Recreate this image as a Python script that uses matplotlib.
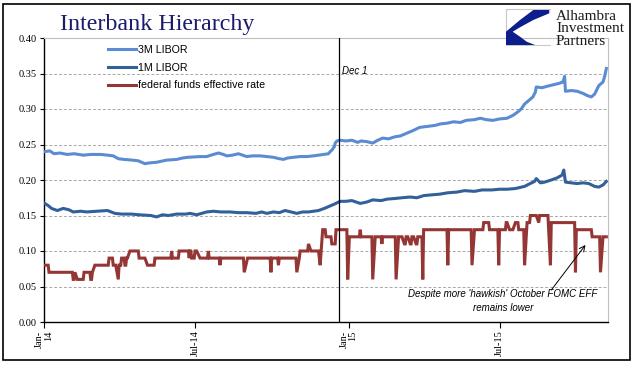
import matplotlib
matplotlib.use("Agg")
import matplotlib.pyplot as plt
import pandas as pd
import numpy as np
from matplotlib.patches import Rectangle, Polygon
from matplotlib.lines import Line2D
from matplotlib.font_manager import FontProperties

# ---------------- data ----------------
libor3m_dates = [
    "2014-01-02", "2014-01-08", "2014-01-13", "2014-01-20", "2014-01-29", "2014-02-06",
    "2014-02-17", "2014-02-26", "2014-03-10", "2014-03-18", "2014-03-25", "2014-03-31",
    "2014-04-07", "2014-04-17", "2014-04-24", "2014-05-02", "2014-05-07", "2014-05-16",
    "2014-05-28", "2014-06-09", "2014-06-16", "2014-06-23", "2014-07-07", "2014-07-15",
    "2014-07-23", "2014-07-29", "2014-08-04", "2014-08-08", "2014-08-15", "2014-08-22",
    "2014-09-01", "2014-09-08", "2014-09-17", "2014-09-25", "2014-10-03", "2014-10-10",
    "2014-10-15", "2014-10-20", "2014-10-27", "2014-11-04", "2014-11-12", "2014-11-20",
    "2014-11-26", "2014-12-02", "2014-12-08", "2014-12-10", "2014-12-12", "2014-12-15",
    "2014-12-16", "2014-12-18", "2014-12-22", "2014-12-29", "2015-01-05", "2015-01-12",
    "2015-01-16", "2015-01-23", "2015-01-30", "2015-02-05", "2015-02-11", "2015-02-18",
    "2015-02-26", "2015-03-04", "2015-03-10", "2015-03-16", "2015-03-20", "2015-03-27",
    "2015-04-02", "2015-04-09", "2015-04-15", "2015-04-21", "2015-04-29", "2015-05-07",
    "2015-05-15", "2015-05-22", "2015-06-01", "2015-06-08", "2015-06-15", "2015-06-23",
    "2015-07-01", "2015-07-10", "2015-07-17", "2015-07-23", "2015-07-27", "2015-07-31",
    "2015-08-04", "2015-08-10", "2015-08-13", "2015-08-14", "2015-08-21", "2015-08-27",
    "2015-09-03", "2015-09-10", "2015-09-15", "2015-09-17", "2015-09-18", "2015-09-25",
    "2015-10-02", "2015-10-09", "2015-10-14", "2015-10-19", "2015-10-23", "2015-10-28",
    "2015-11-02", "2015-11-04", "2015-11-06",
]
libor3m_values = [
    0.240, 0.241, 0.237, 0.238, 0.236, 0.237,
    0.235, 0.236, 0.236, 0.235, 0.234, 0.230,
    0.229, 0.228, 0.227, 0.223, 0.224, 0.225,
    0.228, 0.229, 0.231, 0.232, 0.233, 0.233,
    0.236, 0.238, 0.236, 0.234, 0.235, 0.237,
    0.233, 0.234, 0.234, 0.233, 0.232, 0.230,
    0.229, 0.231, 0.232, 0.233, 0.233, 0.234,
    0.235, 0.236, 0.237, 0.240, 0.242, 0.247,
    0.252, 0.255, 0.256, 0.255, 0.256, 0.253,
    0.255, 0.254, 0.252, 0.256, 0.259, 0.258,
    0.261, 0.262, 0.265, 0.268, 0.270, 0.274,
    0.275, 0.276, 0.277, 0.279, 0.280, 0.282,
    0.281, 0.284, 0.285, 0.287, 0.285, 0.284,
    0.286, 0.287, 0.291, 0.296, 0.300, 0.307,
    0.311, 0.317, 0.324, 0.331, 0.330, 0.332,
    0.334, 0.336, 0.338, 0.346, 0.325, 0.326,
    0.325, 0.322, 0.319, 0.317, 0.321, 0.333,
    0.338, 0.346, 0.357,
]

libor1m_dates = [
    "2014-01-02", "2014-01-06", "2014-01-10", "2014-01-17", "2014-01-24", "2014-01-31",
    "2014-02-05", "2014-02-14", "2014-02-21", "2014-03-05", "2014-03-18", "2014-03-27",
    "2014-04-04", "2014-04-16", "2014-04-25", "2014-05-09", "2014-05-16", "2014-05-23",
    "2014-05-30", "2014-06-09", "2014-06-20", "2014-06-25", "2014-07-03", "2014-07-15",
    "2014-07-23", "2014-08-01", "2014-08-12", "2014-08-22", "2014-09-01", "2014-09-12",
    "2014-09-19", "2014-09-25", "2014-10-03", "2014-10-10", "2014-10-17", "2014-10-24",
    "2014-10-31", "2014-11-07", "2014-11-14", "2014-11-20", "2014-11-26", "2014-12-03",
    "2014-12-09", "2014-12-15", "2014-12-22", "2014-12-29", "2015-01-05", "2015-01-15",
    "2015-01-23", "2015-01-30", "2015-02-09", "2015-02-16", "2015-02-26", "2015-03-06",
    "2015-03-16", "2015-03-24", "2015-04-01", "2015-04-10", "2015-04-20", "2015-04-30",
    "2015-05-11", "2015-05-20", "2015-06-01", "2015-06-10", "2015-06-22", "2015-07-01",
    "2015-07-10", "2015-07-20", "2015-07-31", "2015-08-05", "2015-08-12", "2015-08-14",
    "2015-08-19", "2015-08-24", "2015-09-01", "2015-09-08", "2015-09-14", "2015-09-16",
    "2015-09-18", "2015-09-25", "2015-10-02", "2015-10-09", "2015-10-16", "2015-10-23",
    "2015-10-28", "2015-11-02", "2015-11-06",
]
libor1m_values = [
    0.167, 0.164, 0.160, 0.157, 0.160, 0.158,
    0.155, 0.156, 0.155, 0.156, 0.157, 0.153,
    0.152, 0.152, 0.151, 0.150, 0.148, 0.151,
    0.150, 0.152, 0.152, 0.153, 0.151, 0.155,
    0.156, 0.155, 0.155, 0.154, 0.154, 0.153,
    0.155, 0.153, 0.155, 0.154, 0.157, 0.155,
    0.153, 0.155, 0.155, 0.156, 0.157, 0.160,
    0.163, 0.166, 0.170, 0.170, 0.171, 0.167,
    0.169, 0.172, 0.171, 0.173, 0.174, 0.175,
    0.176, 0.175, 0.178, 0.179, 0.180, 0.182,
    0.183, 0.185, 0.184, 0.186, 0.186, 0.187,
    0.187, 0.188, 0.191, 0.194, 0.198, 0.202,
    0.196, 0.197, 0.200, 0.203, 0.207, 0.214,
    0.197, 0.196, 0.195, 0.196, 0.195, 0.191,
    0.190, 0.193, 0.198,
]

# federal funds effective rate: daily observations at every turning point
eff_dates = [
    "2014-01-02", "2014-01-06", "2014-01-07", "2014-02-04", "2014-02-05", "2014-02-06",
    "2014-02-07", "2014-02-10", "2014-02-17", "2014-02-18", "2014-02-25", "2014-02-26",
    "2014-02-27", "2014-02-28", "2014-03-03", "2014-03-19", "2014-03-20", "2014-03-24",
    "2014-03-25", "2014-03-28", "2014-03-31", "2014-04-01", "2014-04-03", "2014-04-04",
    "2014-04-07", "2014-04-08", "2014-04-09", "2014-04-10", "2014-04-11", "2014-04-14",
    "2014-04-24", "2014-04-25", "2014-05-02", "2014-05-05", "2014-05-13", "2014-05-14",
    "2014-06-02", "2014-06-03", "2014-06-04", "2014-06-11", "2014-06-12", "2014-06-23",
    "2014-06-24", "2014-06-25", "2014-06-26", "2014-06-27", "2014-06-30", "2014-07-01",
    "2014-07-03", "2014-07-07", "2014-07-16", "2014-07-17", "2014-07-18", "2014-07-30",
    "2014-07-31", "2014-08-01", "2014-08-28", "2014-08-29", "2014-09-02", "2014-09-29",
    "2014-09-30", "2014-10-01", "2014-10-08", "2014-10-09", "2014-10-10", "2014-10-30",
    "2014-10-31", "2014-11-03", "2014-11-04", "2014-11-13", "2014-11-14", "2014-11-17",
    "2014-11-26", "2014-11-28", "2014-12-01", "2014-12-04", "2014-12-05", "2014-12-11",
    "2014-12-12", "2014-12-16", "2014-12-17", "2014-12-30", "2014-12-31", "2015-01-02",
    "2015-01-14", "2015-01-15", "2015-01-16", "2015-01-29", "2015-01-30", "2015-02-02",
    "2015-02-09", "2015-02-10", "2015-02-11", "2015-02-26", "2015-02-27", "2015-03-02",
    "2015-03-06", "2015-03-09", "2015-03-10", "2015-03-11", "2015-03-13", "2015-03-16",
    "2015-03-17", "2015-03-18", "2015-03-20", "2015-03-23", "2015-03-24", "2015-03-25",
    "2015-03-30", "2015-03-31", "2015-04-01", "2015-04-29", "2015-04-30", "2015-05-01",
    "2015-05-28", "2015-05-29", "2015-06-01", "2015-06-11", "2015-06-12", "2015-06-18",
    "2015-06-19", "2015-06-29", "2015-06-30", "2015-07-01", "2015-07-08", "2015-07-09",
    "2015-07-10", "2015-07-13", "2015-07-17", "2015-07-20", "2015-07-23", "2015-07-24",
    "2015-07-30", "2015-07-31", "2015-08-03", "2015-08-06", "2015-08-07", "2015-08-14",
    "2015-08-17", "2015-08-18", "2015-08-28", "2015-08-31", "2015-09-01", "2015-09-29",
    "2015-09-30", "2015-10-01", "2015-10-19", "2015-10-20", "2015-10-29", "2015-10-30",
    "2015-11-02", "2015-11-06",
]
eff_values = [
    0.08, 0.08, 0.07, 0.07, 0.06, 0.06,
    0.07, 0.06, 0.06, 0.07, 0.07, 0.06,
    0.06, 0.07, 0.08, 0.08, 0.09, 0.09,
    0.08, 0.08, 0.06, 0.08, 0.08, 0.09,
    0.09, 0.08, 0.08, 0.09, 0.09, 0.10,
    0.10, 0.09, 0.09, 0.08, 0.08, 0.09,
    0.09, 0.10, 0.09, 0.09, 0.10, 0.10,
    0.09, 0.10, 0.10, 0.09, 0.09, 0.10,
    0.10, 0.09, 0.09, 0.10, 0.09, 0.09,
    0.08, 0.09, 0.09, 0.07, 0.09, 0.09,
    0.07, 0.09, 0.09, 0.08, 0.09, 0.09,
    0.07, 0.09, 0.10, 0.10, 0.11, 0.10,
    0.10, 0.08, 0.13, 0.13, 0.12, 0.12,
    0.11, 0.11, 0.13, 0.13, 0.06, 0.12,
    0.12, 0.13, 0.12, 0.12, 0.06, 0.12,
    0.12, 0.11, 0.12, 0.12, 0.06, 0.12,
    0.12, 0.11, 0.11, 0.12, 0.12, 0.11,
    0.11, 0.12, 0.12, 0.11, 0.11, 0.12,
    0.12, 0.06, 0.13, 0.13, 0.08, 0.13,
    0.13, 0.08, 0.13, 0.13, 0.14, 0.14,
    0.13, 0.13, 0.08, 0.13, 0.13, 0.14,
    0.14, 0.13, 0.13, 0.14, 0.14, 0.13,
    0.13, 0.08, 0.14, 0.14, 0.15, 0.15,
    0.14, 0.15, 0.15, 0.08, 0.14, 0.14,
    0.07, 0.13, 0.13, 0.12, 0.12, 0.07,
    0.12, 0.12,
]

series_labels = ["3M LIBOR", "1M LIBOR", "federal funds effective rate"]
series_colors = ["#5B8CD2", "#32609A", "#943634"]

xtick_dates = ["2014-01-01", "2014-07-01", "2015-01-01", "2015-07-01"]
xtick_labels = ["Jan-\n14", "Jul-14", "Jan-\n15", "Jul-15"]
yticks = [0.00, 0.05, 0.10, 0.15, 0.20, 0.25, 0.30, 0.35, 0.40]

marker_date = "2014-12-21"
marker_label = "Dec 1"
x_start, x_end = "2014-01-01", "2015-11-08"

title = "Interbank Hierarchy"
note = "Despite more 'hawkish' October FOMC EFF\nremains lower"
arrow_head = ("2015-10-12", 0.1085)
arrow_tail = ("2015-09-01", 0.045)

# ---------------- figure ----------------
W, H = 641, 375
fig = plt.figure(figsize=(W / 100, H / 100), dpi=100)
fig.patch.set_facecolor("white")

def fx(px):
    return px / W

def fy(py):
    return 1 - py / H

ax = fig.add_axes([fx(44), fy(322), (608 - 44) / W, (322 - 38) / H])

d3 = pd.to_datetime(libor3m_dates)
d1 = pd.to_datetime(libor1m_dates)
de = pd.to_datetime(eff_dates)

lw = 2.2
ax.plot(d3, libor3m_values, color=series_colors[0], lw=lw, solid_joinstyle="round", zorder=3)
ax.plot(d1, libor1m_values, color=series_colors[1], lw=lw, solid_joinstyle="round", zorder=3)
ax.plot(de, eff_values, color=series_colors[2], lw=lw, solid_joinstyle="miter", zorder=3)

ax.set_xlim(pd.Timestamp(x_start), pd.Timestamp(x_end))
ax.set_ylim(0, 0.40)

# marker line
md = pd.Timestamp(marker_date)
ax.axvline(md, color="black", lw=0.9, zorder=4)
ax.text(md + pd.Timedelta(days=3), 0.35 - 0.004, marker_label, fontsize=7, style="italic",
        family="Liberation Sans", va="bottom", ha="left")

# grid and spines
ax.set_yticks(yticks)
ax.set_yticklabels([f"{v:.2f}" for v in yticks], family="Liberation Serif", fontsize=7.5)
ax.yaxis.grid(True, color="#A8A8A8", linestyle=(0, (3, 2)), lw=0.7, zorder=0)
ax.set_axisbelow(True)
for s in ["left", "bottom"]:
    ax.spines[s].set_color("black")
    ax.spines[s].set_linewidth(1.0)
for s in ["top", "right"]:
    ax.spines[s].set_color("#BFBFBF")
    ax.spines[s].set_linewidth(0.8)
ax.tick_params(axis="y", direction="out", length=3, width=0.8, pad=2)
ax.set_xticks(pd.to_datetime(xtick_dates))
ax.set_xticklabels(xtick_labels, rotation=90, va="top", ha="center", multialignment="right",
                   family="Liberation Serif", fontsize=7.5, linespacing=0.95)
ax.tick_params(axis="x", direction="out", length=4, width=0.8, pad=2)

# legend
handles = [Line2D([], [], color=c, lw=lw) for c in series_colors]
ax.legend(handles, series_labels, loc="upper left", bbox_to_anchor=((108 - 44) / 564, (322 - 45) / 284),
          frameon=False, handlelength=2.6, handletextpad=0.2, labelspacing=0.72,
          borderaxespad=0, borderpad=0, prop=FontProperties(family="Liberation Sans", size=7.7))

# annotation
ax.annotate("", xy=(pd.Timestamp(arrow_head[0]), arrow_head[1]),
            xytext=(pd.Timestamp(arrow_tail[0]), arrow_tail[1]),
            arrowprops=dict(arrowstyle="->", color="black", lw=0.7, shrinkA=0, shrinkB=0))
fig.text(fx(503), fy(301), note, ha="center", va="center", fontsize=7, style="italic",
         family="Liberation Sans", linespacing=1.55)

# title
fig.text(fx(60), fy(30), title, fontsize=17.3, family="Liberation Serif", color="#1C1C6E",
         va="baseline", ha="left")

# logo
lax = fig.add_axes([fx(505), fy(46), 46 / W, 38 / H])
lax.set_xlim(505, 551)
lax.set_ylim(46, 8)
lax.axis("off")
lax.add_patch(Rectangle((505.5, 8.5), 45, 36.5, fill=False, ec="#C8C8C8", lw=0.8))
lax.add_patch(Polygon([(533.3, 10), (549.3, 10), (549.3, 13.3), (533.3, 20), (520, 27.3),
                       (512.7, 31.7), (520, 36.7), (526.7, 41.7), (535, 45), (506, 45),
                       (506, 31.7), (520, 20)],
                      closed=True, fc="#0B1E8C", ec="none"))
for i, t in enumerate(["Alhambra", "Investment", "Partners"]):
    fig.text(fx(556), fy(20 + 12.5 * i), t, fontsize=11, family="Liberation Serif", color="#1a1a1a",
             va="baseline", ha="left")

# outer frame
fig.patches.append(Rectangle((fx(3), fy(360)), 627 / W, 356 / H, transform=fig.transFigure,
                             fill=False, ec="black", lw=1.2))

fig.savefig("out.png", dpi=100)
